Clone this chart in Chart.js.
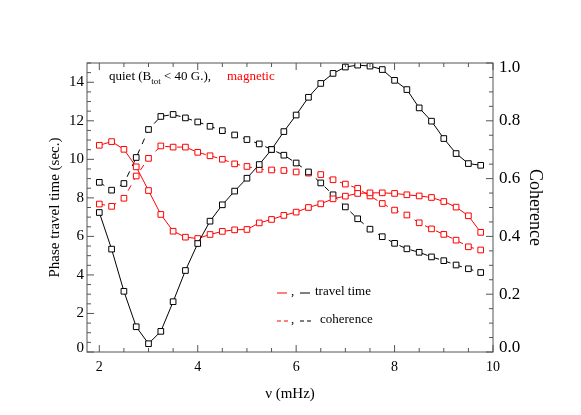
<!DOCTYPE html>
<html>
<head>
<meta charset="utf-8">
<script src="https://cdn.jsdelivr.net/npm/chart.js@4.4.1/dist/chart.umd.min.js"></script>
<style>
  html, body { margin: 0; padding: 0; background: #fff; }
</style>
</head>
<body>
<canvas id="phase" width="581" height="415"></canvas>
<script>
// frequency (mHz)
const freq = [2.0, 2.25, 2.5, 2.75, 3.0, 3.25, 3.5, 3.75, 4.0, 4.25, 4.5, 4.75,
              5.0, 5.25, 5.5, 5.75, 6.0, 6.25, 6.5, 6.75, 7.0, 7.25, 7.5, 7.75,
              8.0, 8.25, 8.5, 8.75, 9.0, 9.25, 9.5, 9.75];

// phase travel time (sec.)
const quietTime = [7.24, 5.34, 3.15, 1.31, 0.43, 1.07, 2.61, 4.23, 5.63, 6.79, 7.64, 8.35,
                   9.02, 9.73, 10.51, 11.44, 12.30, 13.22, 13.94, 14.46, 14.79, 14.89, 14.84, 14.66,
                   14.10, 13.62, 12.67, 11.98, 11.08, 10.30, 9.78, 9.69];
const magTime = [10.73, 10.92, 10.52, 9.61, 8.38, 7.14, 6.27, 5.96, 5.89, 6.10, 6.26, 6.34,
                 6.36, 6.70, 6.88, 7.09, 7.26, 7.50, 7.69, 7.95, 8.09, 8.23, 8.26, 8.26,
                 8.23, 8.16, 8.10, 8.02, 7.81, 7.52, 7.07, 6.21];

// coherence
const quietCoh = [0.587, 0.560, 0.583, 0.673, 0.770, 0.815, 0.822, 0.810, 0.796, 0.781, 0.766, 0.751,
                  0.735, 0.720, 0.701, 0.681, 0.654, 0.623, 0.585, 0.544, 0.502, 0.461, 0.425, 0.399,
                  0.376, 0.357, 0.345, 0.329, 0.316, 0.301, 0.288, 0.275];
const magCoh = [0.512, 0.504, 0.532, 0.609, 0.670, 0.713, 0.709, 0.709, 0.691, 0.679, 0.667, 0.651,
                0.642, 0.632, 0.630, 0.628, 0.623, 0.619, 0.614, 0.596, 0.581, 0.566, 0.540, 0.514,
                0.491, 0.474, 0.447, 0.426, 0.407, 0.387, 0.364, 0.353];

const freqTicks = [2, 4, 6, 8, 10];
const timeTicks = [0, 2, 4, 6, 8, 10, 12, 14];
const cohTicks = [0, 0.2, 0.4, 0.6, 0.8, 1.0];

const RED = '#ff0000';
const BLACK = '#000000';
const SERIF = '"Liberation Serif", "DejaVu Serif", serif';

const pts = (ys) => freq.map((f, i) => ({ x: f, y: ys[i] }));

const series = (label, ys, color, axis, dashed) => ({
  label: label,
  data: pts(ys),
  yAxisID: axis,
  borderColor: color,
  borderWidth: 1,
  borderDash: dashed ? [6, 6] : [],
  pointStyle: 'rect',
  pointRadius: 4,
  pointBorderWidth: 1,
  pointBorderColor: color,
  pointBackgroundColor: '#fff',
  tension: 0,
});

// end labels sit inside the axis range, like IDL does it
const edgeLabel = (text, isTop, isBottom) => isTop ? ['', text] : isBottom ? [text, ''] : text;

// inward IDL style tick marks + frame
const idlAxes = {
  id: 'idlAxes',
  afterDraw(chart) {
    const { ctx, chartArea: a, scales } = chart;
    const x = scales.x, y = scales.y, y2 = scales.y2;
    ctx.save();
    ctx.strokeStyle = '#555';
    ctx.lineWidth = 1;
    ctx.strokeRect(a.left, a.top, a.right - a.left, a.bottom - a.top);
    ctx.beginPath();
    for (let v = 2; v <= 10; v += 0.5) {
      const px = x.getPixelForValue(v);
      const len = freqTicks.includes(v) ? 7 : 4;
      ctx.moveTo(px, a.bottom); ctx.lineTo(px, a.bottom - len);
      ctx.moveTo(px, a.top); ctx.lineTo(px, a.top + len);
    }
    for (let v = 0; v <= 15; v += 0.5) {
      const py = y.getPixelForValue(v);
      const len = timeTicks.includes(v) ? 7 : 4;
      ctx.moveTo(a.left, py); ctx.lineTo(a.left + len, py);
    }
    for (let k = 0; k <= 20; k++) {
      const py = y2.getPixelForValue(k * 0.05);
      const len = k % 4 === 0 ? 7 : 4;
      ctx.moveTo(a.right, py); ctx.lineTo(a.right - len, py);
    }
    ctx.stroke();

    // annotation in upper left
    ctx.textBaseline = 'middle';
    ctx.textAlign = 'left';
    let tx = a.left + 22;
    const ty = a.top + 14;
    ctx.fillStyle = BLACK;
    ctx.font = '13px ' + SERIF;
    ctx.fillText('quiet (B', tx, ty);
    tx += ctx.measureText('quiet (B').width;
    ctx.font = '9px ' + SERIF;
    ctx.fillText('tot', tx, ty + 5);
    tx += ctx.measureText('tot').width;
    ctx.font = '13px ' + SERIF;
    ctx.fillText(' < 40 G.),', tx, ty);
    ctx.fillStyle = RED;
    ctx.fillText('magnetic', a.left + 140, ty);

    // key at bottom
    const ky1 = a.top + 229, ky2 = a.top + 257;
    const kx = a.left + 190;
    ctx.beginPath();
    ctx.strokeStyle = RED;
    ctx.moveTo(kx, ky1 + 1); ctx.lineTo(kx + 10, ky1 + 1);
    ctx.stroke();
    ctx.beginPath();
    ctx.strokeStyle = BLACK;
    ctx.moveTo(kx + 23, ky1 + 1); ctx.lineTo(kx + 33, ky1 + 1);
    ctx.stroke();
    ctx.setLineDash([4, 3]);
    ctx.beginPath();
    ctx.strokeStyle = RED;
    ctx.moveTo(kx, ky2 + 1); ctx.lineTo(kx + 11, ky2 + 1);
    ctx.stroke();
    ctx.beginPath();
    ctx.strokeStyle = BLACK;
    ctx.moveTo(kx + 23, ky2 + 1); ctx.lineTo(kx + 34, ky2 + 1);
    ctx.stroke();
    ctx.setLineDash([]);
    ctx.fillStyle = BLACK;
    ctx.fillText(',', kx + 14, ky1);
    ctx.fillText(',', kx + 14, ky2);
    ctx.fillText('travel time', kx + 38, ky1);
    ctx.fillText('coherence', kx + 43, ky2);
    ctx.restore();
  }
};

new Chart(document.getElementById('phase'), {
  type: 'line',
  data: {
    datasets: [
      series('quiet travel time', quietTime, BLACK, 'y', false),
      series('magnetic travel time', magTime, RED, 'y', false),
      series('quiet coherence', quietCoh, BLACK, 'y2', true),
      series('magnetic coherence', magCoh, RED, 'y2', true),
    ]
  },
  options: {
    responsive: false,
    animation: false,
    layout: { padding: { left: 40, right: 33, top: 63, bottom: 6 } },
    plugins: {
      legend: { display: false },
      tooltip: { enabled: false },
    },
    scales: {
      x: {
        type: 'linear',
        min: 1.75,
        max: 10,
        grid: { display: false, drawTicks: false },
        border: { display: false },
        afterBuildTicks: (s) => { s.ticks = freqTicks.map(v => ({ value: v })); },
        afterFit: (s) => { s.height = 57; },
        ticks: { color: BLACK, font: { family: SERIF, size: 14 }, padding: 7, maxRotation: 0 },
        title: { display: true, text: 'ν (mHz)', color: BLACK, font: { family: SERIF, size: 15 }, padding: { top: 0, bottom: 6 } },
      },
      y: {
        position: 'left',
        min: 0,
        max: 15,
        grid: { display: false, drawTicks: false },
        border: { display: false },
        afterBuildTicks: (s) => { s.ticks = timeTicks.map(v => ({ value: v })); },
        afterFit: (s) => { s.width = 47; },
        ticks: { color: BLACK, font: { family: SERIF, size: 15, lineHeight: 0.55 }, padding: 3,
                 callback: (v) => edgeLabel(String(v), false, v === 0) },
        title: { display: true, text: 'Phase travel time (sec.)', color: BLACK, font: { family: SERIF, size: 15 }, padding: { top: 6, bottom: 0 } },
      },
      y2: {
        position: 'right',
        min: 0,
        max: 1,
        grid: { display: false, drawTicks: false },
        border: { display: false },
        afterBuildTicks: (s) => { s.ticks = cohTicks.map(v => ({ value: v })); },
        afterFit: (s) => { s.width = 55; },
        ticks: { color: BLACK, font: { family: SERIF, size: 17, lineHeight: 0.55 }, padding: 6,
                 callback: (v) => edgeLabel(v.toFixed(1), v === 1, v === 0) },
        title: { display: true, text: 'Coherence', color: BLACK, font: { family: SERIF, size: 18 }, padding: { top: 2, bottom: 0 } },
      },
    },
  },
  plugins: [idlAxes],
});
</script>
</body>
</html>
